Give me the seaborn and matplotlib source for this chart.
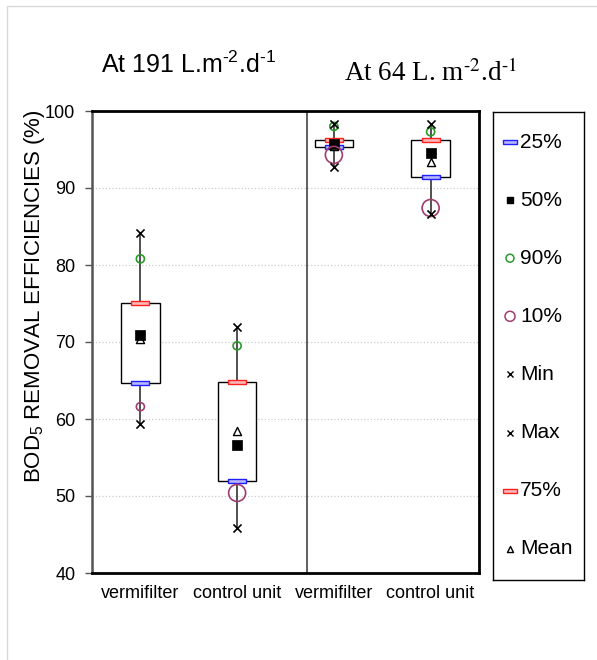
import numpy as np
import pandas as pd
import matplotlib.pyplot as plt
import seaborn as sns
from matplotlib.lines import Line2D

# ---------------------------
# Data (BOD5 removal, %)
# ---------------------------
groups = ["vermifilter", "control unit", "vermifilter", "control unit"]
loading = ["191", "191", "64", "64"]
p_min = [59.4, 45.8, 92.7, 86.6]
p10 = [61.6, 50.4, 94.3, 87.4]
p25 = [64.7, 51.9, 95.3, 91.4]
p50 = [70.9, 56.6, 95.7, 94.5]
p75 = [75.1, 64.8, 96.2, 96.2]
p90 = [80.8, 69.5, 98.0, 97.3]
p_max = [84.2, 71.9, 98.3, 98.3]
p_mean = [70.4, 58.4, 95.5, 93.4]
y_ticks = [40, 50, 60, 70, 80, 90, 100]

pos = np.arange(len(groups))
df = pd.DataFrame({"pos": pos, "group": groups, "loading": loading,
                   "min": p_min, "p10": p10, "p25": p25, "p50": p50,
                   "p75": p75, "p90": p90, "max": p_max, "mean": p_mean})

# ---------------------------
# Style
# ---------------------------
sns.set_style("white")
plt.rcParams["font.family"] = ["Liberation Sans", "DejaVu Sans"]
plt.rcParams["mathtext.fontset"] = "custom"
plt.rcParams["mathtext.rm"] = "Liberation Sans"
plt.rcParams["mathtext.it"] = "Liberation Sans:italic"
plt.rcParams["mathtext.bf"] = "Liberation Sans:bold"
for key in ["text.color", "axes.labelcolor", "xtick.color", "ytick.color"]:
    plt.rcParams[key] = "black"

bar = [(-1, -0.24), (1, -0.24), (1, 0.24), (-1, 0.24), (-1, -0.24)]
p10_size = [34, 150, 150, 150]

fig = plt.figure(figsize=(5.97, 6.6), dpi=100)
ax = fig.add_axes([92 / 597, 87 / 660, 387 / 597, 462 / 660])

# boxes and whiskers from the percentiles
stats = [dict(med=r.p50, q1=r.p25, q3=r.p75, whislo=r["min"], whishi=r["max"], fliers=[])
         for _, r in df.iterrows()]
ax.bxp(stats, positions=pos, widths=0.4, patch_artist=True, showcaps=False,
       boxprops=dict(facecolor="white", edgecolor="black", linewidth=1),
       whiskerprops=dict(color="#333333", linewidth=1.2),
       medianprops=dict(linewidth=0), manage_ticks=False)

# percentile markers
sns.scatterplot(data=df, x="pos", y="p25", marker=bar, s=150, color="#b8b8ff",
                edgecolor="#2020ff", linewidth=1, ax=ax, zorder=3)
sns.scatterplot(data=df, x="pos", y="p75", marker=bar, s=150, color="#ffb8b8",
                edgecolor="#ff2020", linewidth=1, ax=ax, zorder=3)
sns.scatterplot(data=df, x="pos", y="mean", marker="^", s=34, color="white",
                edgecolor="black", linewidth=1, ax=ax, zorder=4)
sns.scatterplot(data=df, x="pos", y="p50", marker="s", s=42, color="black",
                edgecolor="black", linewidth=0.5, ax=ax, zorder=5)
sns.scatterplot(data=df, x="pos", y="p90", marker="o", s=34, color="none",
                edgecolor="#2a9a2a", linewidth=1.2, ax=ax, zorder=5)
sns.scatterplot(data=df, x="pos", y="p10", marker="o", s=p10_size, color="none",
                edgecolor="#a03c6e", linewidth=1.2, ax=ax, zorder=5)
sns.scatterplot(data=df, x="pos", y="min", marker="x", s=34, color="black",
                linewidth=1.2, ax=ax, zorder=5)
sns.scatterplot(data=df, x="pos", y="max", marker="x", s=34, color="black",
                linewidth=1.2, ax=ax, zorder=5)

# axes
ax.set_xlim(-0.5, 3.5)
ax.set_ylim(40, 100)
ax.set_yticks(y_ticks)
ax.set_xticks(pos, groups)
ax.set_xticks(np.arange(-0.5, len(groups), 1), minor=True)
ax.tick_params(axis="x", which="major", length=0, pad=9, labelsize=13)
ax.tick_params(axis="x", which="minor", length=5, width=1, direction="out", color="#333333")
ax.tick_params(axis="y", length=5, width=1, direction="out", pad=7, labelsize=13, color="#555555", left=True)
ax.set_xlabel("")
ax.set_ylabel(r"BOD$_5$ REMOVAL EFFICIENCIES (%)", fontsize=16)
ax.yaxis.set_label_coords(-0.115, 0.60)
ax.yaxis.grid(True, linestyle=":", color="#cccccc", linewidth=0.9)
ax.set_axisbelow(True)
ax.axvline(1.72, color="#444444", linewidth=1.2)
for side in ["top", "right", "bottom"]:
    ax.spines[side].set_color("black")
    ax.spines[side].set_linewidth(2)
ax.spines["left"].set_color("#555555")
ax.spines["left"].set_linewidth(1.8)

# titles (hyphen-like superscript signs, as in the original)
fig.text(101 / 597, 1 - 73 / 660, "At 191 L.m$^{\u20102}$.d$^{\u20101}$", fontsize=18, va="baseline")
fig.text(344 / 597, 1 - 81 / 660, "At 64 L. m$^{\u20102}$.d$^{\u20101}$", fontsize=19.5,
         family="Liberation Serif", math_fontfamily="stix", va="baseline")

# legend box
lax = fig.add_axes([493 / 597, 80 / 660, 91 / 597, 468 / 660])
lax.set_xlim(0, 91)
lax.set_ylim(580, 112)
lax.set_xticks([])
lax.set_yticks([])
for sp in lax.spines.values():
    sp.set_color("black")
    sp.set_linewidth(1)
entries = [
    ("25%", dict(marker=bar, s=88, c="#b8b8ff", edgecolors="#2020ff", linewidths=1)),
    ("50%", dict(marker="s", s=25, c="black")),
    ("90%", dict(marker="o", s=33, c="none", edgecolors="#2a9a2a", linewidths=1.1)),
    ("10%", dict(marker="o", s=52, c="none", edgecolors="#a03c6e", linewidths=1.1)),
    ("Min", dict(marker="x", s=19, c="black", linewidths=1)),
    ("Max", dict(marker="x", s=19, c="black", linewidths=1)),
    ("75%", dict(marker=bar, s=88, c="#ffb8b8", edgecolors="#ff2020", linewidths=1)),
    ("Mean", dict(marker="^", s=19, c="white", edgecolors="black", linewidths=1)),
]
for i, (label, kw) in enumerate(entries):
    y = 142 + 58.1 * i
    lax.scatter([17], [y], **kw)
    lax.text(27, y, label, va="center", fontsize=15)

# light frame of the original figure
fig.add_artist(Line2D([7 / 597, 7 / 597, 1], [0, 1 - 6 / 660, 1 - 6 / 660],
                      transform=fig.transFigure, color="#d9d9d9", linewidth=1))

fig.savefig("out.png", dpi=100)
